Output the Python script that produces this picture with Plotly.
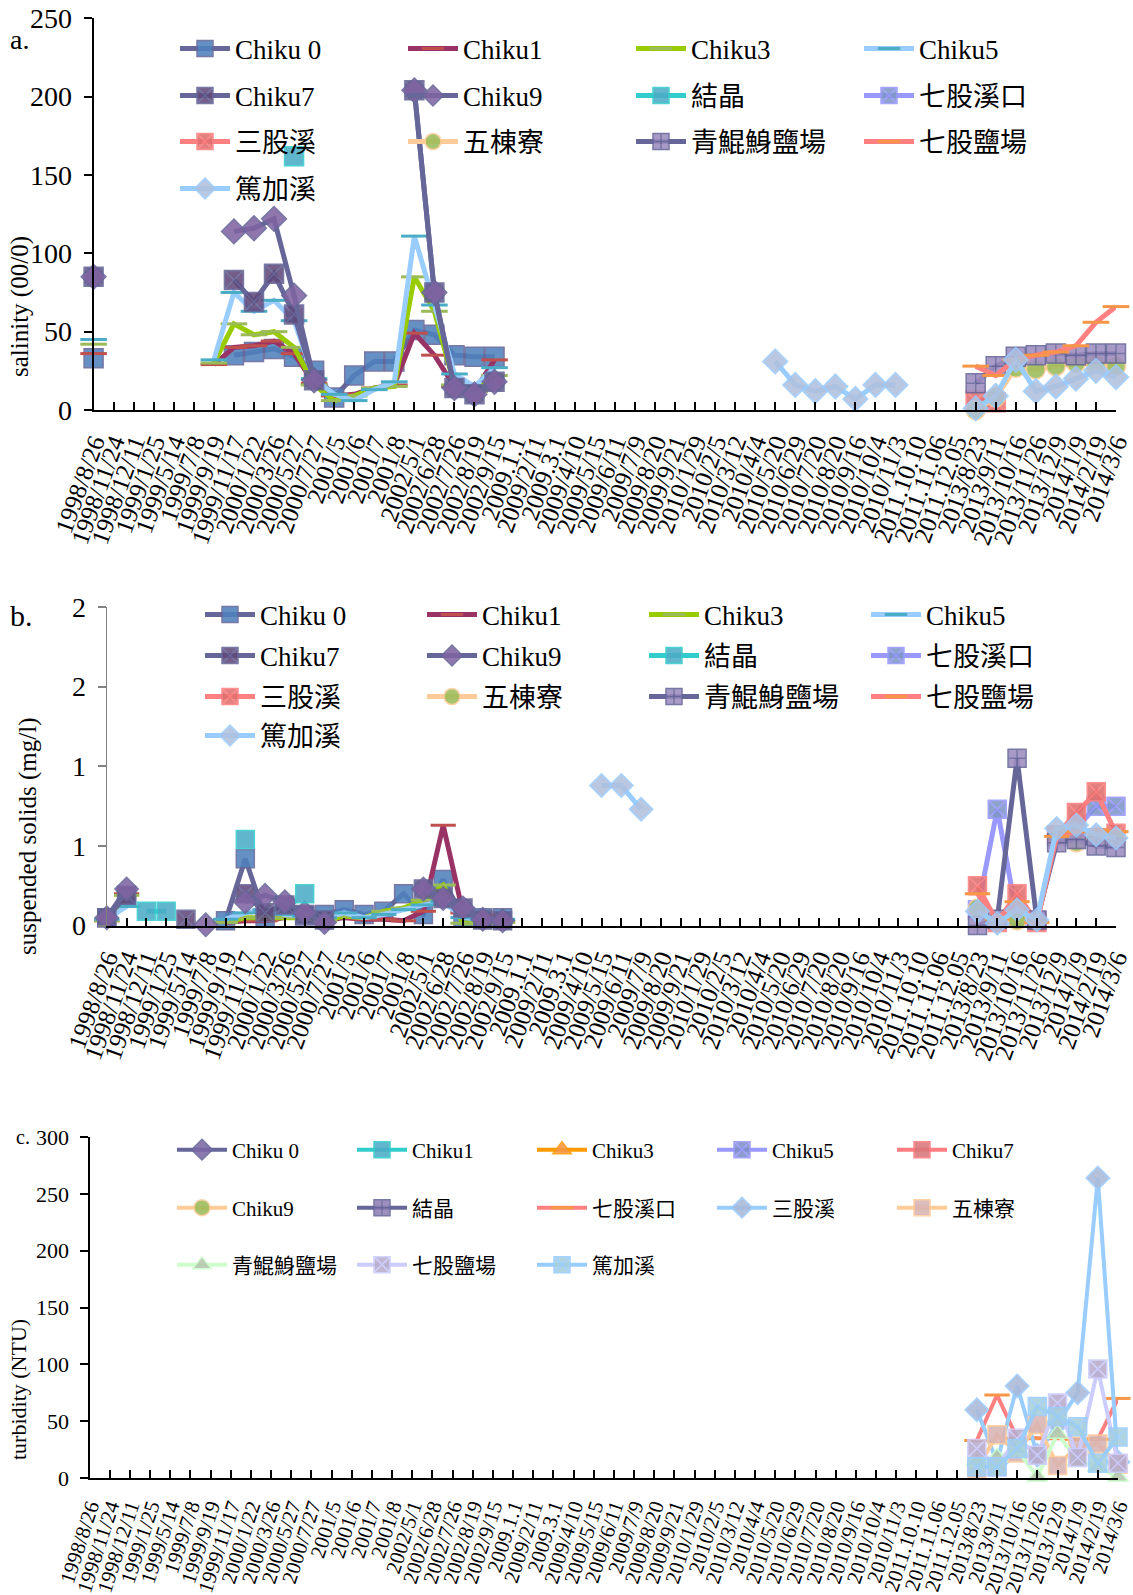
import plotly.graph_objects as go

N = None
categories = ["1998/8/26", "1998/11/24", "1998/12/11", "1999/1/25", "1999/5/14", "1999/7/8",
              "1999/9/19", "1999/11/17", "2000/1/22", "2000/3/26", "2000/5/27", "2000/7/27",
              "2001/5", "2001/6", "2001/7", "2001/8", "2002/5/1", "2002/6/28", "2002/7/26",
              "2002/8/19", "2002/9/15", "2009.1.1", "2009/2/11", "2009.3.1", "2009/4/10",
              "2009/5/15", "2009/6/11", "2009/7/9", "2009/8/20", "2009/9/21", "2010/1/29",
              "2010/2/5", "2010/3/12", "2010/4/4", "2010/5/20", "2010/6/29", "2010/7/20",
              "2010/8/20", "2010/9/16", "2010/10/4", "2010/11/3", "2011.10.10", "2011.11.06",
              "2011.12.05", "2013/8/23", "2013/9/11", "2013/10/16", "2013/11/26", "2013/12/9",
              "2014/1/9", "2014/2/19", "2014/3/6"]

# blocks of "no sample" : early (1998-2002, 21 dates), middle (2009-2011, 23 dates), late (2013-2014, 8 dates)
E = [N] * 21
M = [N] * 23
L = [N] * 8

names_ab = ["Chiku 0", "Chiku1", "Chiku3", "Chiku5", "Chiku7", "Chiku9", "結晶", "七股溪口",
            "三股溪", "五棟寮", "青鯤鯓鹽場", "七股鹽場", "篤加溪"]
names_c = ["Chiku 0", "Chiku1", "Chiku3", "Chiku5", "Chiku7", "Chiku9", "結晶", "七股溪口",
           "三股溪", "五棟寮", "青鯤鯓鹽場", "七股鹽場", "篤加溪"]

# ---- a. salinity (00/0)
sal_chiku0 = [33, N, N, N, N, N, N, 35, 37, 39, 34, 25, 8, 22, 31, 31, 51, 48, 35, 34, 34] + M + L
sal_chiku1 = [36, N, N, N, N, N, 29, 40, 41, 44, 36, 17, 9, 10, 14, 16, 49, 35, 15, 12, 32] + M + L
sal_chiku3 = [42, N, N, N, N, N, 30, 55, 48, 50, 40, 16, 6, 9, 14, 15, 85, 63, 16, 12, 22] + M + L
sal_chiku5 = [45, N, N, N, N, N, 32, 75, 63, 70, 57, 20, 10, 6, 13, 18, 111, 67, 23, 15, 27] + M + L
sal_chiku7 = [85, N, N, N, N, N, N, 83, 69, 87, 61, 19, N, N, N, N, 204, 75, 14, 10, 18] + M + L
sal_chiku9 = [85, N, N, N, N, N, N, 114, 116, 122, 73, 19, N, N, N, N, 204, 75, 14, 10, 18] + M + L
sal_jiejing = [N, N, N, N, N, N, N, N, N, N, 162, N, N, N, N, N, N, N, N, N, N] + M + L
sal_qigukou = E + M + L
sal_sangu = E + M + [6, 5, N, N, N, N, N, N]
sal_wudong = E + M + [0, 8, 27, 26, 28, 30, 29, 28]
sal_qingkun = E + M + [17, 28, 34, 35, 36, 35, 36, 36]
sal_qiguyan = E + M + [28, 22, 32, 35, 37, 41, 56, 66]
sal_dujia = E + [N] * 13 + [31, 16, 12, 15, 7, 16, 16] + [N] * 3 + [1, 9, 32, 12, 15, 20, 25, 21]

# ---- b. suspended solids (mg/l)
ss_chiku0 = [0.05, 0.18, N, N, N, N, 0.03, 0.42, 0.05, 0.11, 0.06, 0.07, 0.1, 0.07, 0.09, 0.2, 0.07, 0.29, 0.05, 0.05, 0.05] + M + L
ss_chiku1 = [0.03, 0.2, N, N, N, N, 0.02, 0.03, 0.03, 0.05, 0.06, 0.03, 0.05, 0.04, 0.04, 0.03, 0.09, 0.63, 0.08, 0.07, 0.03] + M + L
ss_chiku3 = [0.03, 0.19, N, N, N, N, 0.02, 0.05, 0.05, 0.05, 0.05, 0.03, 0.06, 0.05, 0.09, 0.11, 0.16, 0.255, 0.015, 0.02, 0.02] + M + L
ss_chiku5 = [0.04, 0.12, N, N, N, N, 0.04, 0.08, 0.1, 0.07, 0.06, 0.05, 0.08, 0.05, 0.07, 0.1, 0.13, 0.15, 0.05, 0.04, 0.04] + M + L
ss_chiku7 = [0.05, 0.19, N, N, 0.04, N, N, 0.2, 0.08, 0.13, 0.07, 0.035, N, N, N, N, 0.23, 0.17, 0.11, 0.035, 0.03] + M + L
ss_chiku9 = [0.05, 0.23, N, N, N, 0.005, N, 0.15, 0.19, 0.15, 0.08, 0.02, N, N, N, N, 0.23, 0.17, 0.11, 0.04, 0.03] + M + L
ss_jiejing = [N, N, 0.09, 0.09, N, N, N, 0.54, N, N, 0.2, N, N, N, N, N, N, N, N, N, N] + M + L
ss_qigukou = E + M + [0.1, 0.73, 0.05, 0.03, 0.56, 0.61, 0.75, 0.75]
ss_sangu = E + M + [0.25, 0.02, 0.2, 0.02, 0.57, 0.71, 0.84, 0.58]
ss_wudong = E + M + [0.11, 0.04, 0.03, 0.03, 0.55, 0.52, 0.55, 0.55]
ss_qingkun = E + M + [0.0, 0.04, 1.05, 0.035, 0.52, 0.54, 0.5, 0.49]
ss_qiguyan = E + M + [0.2, 0.04, 0.15, 0.02, 0.56, 0.59, 0.6, 0.59]
ss_dujia = E + [N] * 4 + [0.88, 0.88, 0.73] + [N] * 16 + [0.09, 0.015, 0.1, 0.035, 0.61, 0.63, 0.57, 0.55]

# ---- c. turbidity (NTU)
tb_chiku0 = E + M + L
tb_chiku1 = E + M + L
tb_chiku3 = E + M + L
tb_chiku5 = E + M + L
tb_chiku7 = E + M + L
tb_chiku9 = E + M + L
tb_jiejing = E + M + L
tb_qigukou = E + M + [33, 73, 35, 35, 35, 34, 34, 70]
tb_sangu = E + M + [60, 14, 81, 20, 48, 75, 264, 14]
tb_wudong = E + M + [8, 38, 22, 47, 11, 28, 30, 12]
tb_qingkun = E + M + [15, 18, 25, 1, 39, 15, 10, 1]
tb_qiguyan = E + M + [26, 10, 35, 20, 66, 18, 96, 13]
tb_dujia = E + M + [10, 10, 26, 63, 54, 45, 13, 36]

sal_series = [sal_chiku0, sal_chiku1, sal_chiku3, sal_chiku5, sal_chiku7, sal_chiku9, sal_jiejing,
              sal_qigukou, sal_sangu, sal_wudong, sal_qingkun, sal_qiguyan, sal_dujia]
ss_series = [ss_chiku0, ss_chiku1, ss_chiku3, ss_chiku5, ss_chiku7, ss_chiku9, ss_jiejing,
             ss_qigukou, ss_sangu, ss_wudong, ss_qingkun, ss_qiguyan, ss_dujia]
tb_series = [tb_chiku0, tb_chiku1, tb_chiku3, tb_chiku5, tb_chiku7, tb_chiku9, tb_jiejing,
             tb_qigukou, tb_sangu, tb_wudong, tb_qingkun, tb_qiguyan, tb_dujia]

ss_ticktext = ["0", "1", "1", "2", "2"]

# ---------------- styles ----------------
# (line colour, marker symbol, marker fill)
style_ab = [
    ("#666699", "square", "#4F81BD"),
    ("#993366", "line-ew", "#C0504D"),
    ("#99CC00", "line-ew", "#9BBB59"),
    ("#99CCFF", "line-ew", "#4BACC6"),
    ("#666699", "square-x", "#604A7B"),
    ("#666699", "diamond", "#8064A2"),
    ("#33CCCC", "square", "#4BACC6"),
    ("#9999FF", "square-x", "#7F96C8"),
    ("#FF8080", "square-x", "#E07070"),
    ("#FFCC99", "circle", "#9BBB59"),
    ("#666699", "square-cross", "#9D8DC0"),
    ("#FF8080", "line-ew", "#F79646"),
    ("#99CCFF", "diamond", "#B0C0DE"),
]
style_c = [
    ("#666699", "diamond", "#7B68A6"),
    ("#33CCCC", "square", "#4BACC6"),
    ("#FF9900", "triangle-up", "#F79646"),
    ("#9999FF", "square-x", "#7F8FC8"),
    ("#FF7C80", "square", "#D9777B"),
    ("#FFCC99", "circle", "#9BBB59"),
    ("#666699", "square-cross", "#8F7FB5"),
    ("#FF8080", "line-ew", "#F79646"),
    ("#99CCFF", "diamond", "#A9B9D9"),
    ("#FFCC99", "square", "#D9B3B3"),
    ("#CCFFCC", "triangle-up", "#B5C7AE"),
    ("#CCCCFF", "square-x", "#B8ADCB"),
    ("#99CCFF", "square-x", "#A6D0DD"),
]

FONT = "Liberation Serif, 'Noto Sans CJK TC', serif"
W, H = 1133, 1595


def px(x):
    return x / W


def py(y):
    return 1 - y / H


fig = go.Figure()


def add_chart(series, names, styles, xa, ya, legend_ids, per_row, msize, lwidth):
    for k, (vals, name, st) in enumerate(zip(series, names, styles)):
        lc, sym, mc = st
        if sym == "line-ew":
            marker = dict(symbol=sym, size=msize, line=dict(color=mc, width=3))
        else:
            marker = dict(symbol=sym, size=msize, color=mc, opacity=0.88,
                          line=dict(color=lc, width=1.5))
        fig.add_trace(go.Scatter(
            x=categories, y=vals, name=name, mode="lines+markers",
            xaxis=xa, yaxis=ya, legend=legend_ids[k // per_row],
            line=dict(color=lc, width=lwidth), marker=marker,
            cliponaxis=False, connectgaps=False))


add_chart(sal_series, names_ab, style_ab, "x", "y", ["legend", "legend2", "legend3", "legend4"], 4, 19, 5)
add_chart(ss_series, names_ab, style_ab, "x2", "y2", ["legend5", "legend6", "legend7", "legend8"], 4, 18, 5)
add_chart(tb_series, names_c, style_c, "x3", "y3", ["legend9", "legend10", "legend11"], 5, 18, 4)


def xaxis_cfg(d0, d1, anchor, size, angle):
    return dict(domain=[px(d0), px(d1)], anchor=anchor, type="category",
                categoryorder="array", categoryarray=categories, automargin=False,
                range=[0, len(categories) - 1], tickmode="linear", tick0=0, dtick=1,
                tickangle=angle, ticks="inside", ticklen=8, tickwidth=1.5, tickcolor="black",
                ticklabelstandoff=6,
                showline=True, linecolor="black", linewidth=2, showgrid=False, zeroline=False,
                tickfont=dict(family=FONT, size=size, color="black"))


def yaxis_cfg(t0, t1, anchor, rng, tickvals, ticktext, size, lcolor, lw):
    return dict(domain=[py(t1), py(t0)], anchor=anchor, range=rng, tickmode="array",
                automargin=False,
                tickvals=tickvals, ticktext=ticktext, ticks="outside", ticklen=8,
                ticklabelstandoff=6,
                tickwidth=1.5, tickcolor=lcolor, showline=True, linecolor=lcolor, linewidth=lw,
                showgrid=False, zeroline=False,
                tickfont=dict(family=FONT, size=size, color="black"))


layout = dict(
    width=W, height=H, margin=dict(l=0, r=0, t=0, b=0, autoexpand=False),
    paper_bgcolor="white", plot_bgcolor="white",
    font=dict(family=FONT, color="black"),
    xaxis=xaxis_cfg(93.6, 1116, "y", 25, -70),
    yaxis=yaxis_cfg(18.3, 410, "x", [0, 250], [0, 50, 100, 150, 200, 250],
                    ["0", "50", "100", "150", "200", "250"], 28, "black", 2),
    xaxis2=xaxis_cfg(106.8, 1116, "y2", 25, -70),
    yaxis2=yaxis_cfg(607, 925.6, "x2", [0, 2], [0, 0.5, 1, 1.5, 2], ss_ticktext, 28, "#808080", 1.2),
    xaxis3=xaxis_cfg(89.5, 1118, "y3", 21, -72),
    yaxis3=yaxis_cfg(1137, 1478, "x3", [0, 300], [0, 50, 100, 150, 200, 250, 300],
                     ["0", "50", "100", "150", "200", "250", "300"], 22, "black", 2),
)


def legend_cfg(x, y, size, ew):
    return dict(orientation="h", x=px(x), y=py(y), xanchor="left", yanchor="middle",
                font=dict(family=FONT, size=size, color="black"), bgcolor="rgba(0,0,0,0)",
                itemwidth=50, entrywidth=ew, entrywidthmode="pixels", tracegroupgap=0,
                borderwidth=0)


rows_a = [49, 96, 142, 189]
rows_b = [615, 656, 697, 736]
rows_c = [1150, 1208, 1265]
ids_a = ["legend", "legend2", "legend3", "legend4"]
ids_b = ["legend5", "legend6", "legend7", "legend8"]
ids_c = ["legend9", "legend10", "legend11"]
for lid, yy in zip(ids_a, rows_a):
    layout[lid] = legend_cfg(175, yy, 27, 163)
for lid, yy in zip(ids_b, rows_b):
    layout[lid] = legend_cfg(200, yy, 27, 157)
for lid, yy in zip(ids_c, rows_c):
    layout[lid] = legend_cfg(172, yy, 21, 115)

annotations = [
    dict(text="a.", x=px(8), y=py(39), xanchor="left", yanchor="middle", font=dict(size=28)),
    dict(text="b.", x=px(8), y=py(615), xanchor="left", yanchor="middle", font=dict(size=30)),
    dict(text="c.", x=px(14), y=py(1137), xanchor="left", yanchor="middle", font=dict(size=20)),
    dict(text="salinity (00/0)", x=px(20), y=py(307), textangle=-90, font=dict(size=25)),
    dict(text="suspended solids (mg/l)", x=px(28), y=py(836), textangle=-90, font=dict(size=25)),
    dict(text="turbidity (NTU)", x=px(18), y=py(1390), textangle=-90, font=dict(size=22)),
]
for a in annotations:
    a.update(xref="paper", yref="paper", showarrow=False)
    a.setdefault("xanchor", "center")
    a.setdefault("yanchor", "middle")
    a["font"].update(family=FONT, color="black")
layout["annotations"] = annotations

fig.update_layout(**layout)
fig.write_html("out.html")
